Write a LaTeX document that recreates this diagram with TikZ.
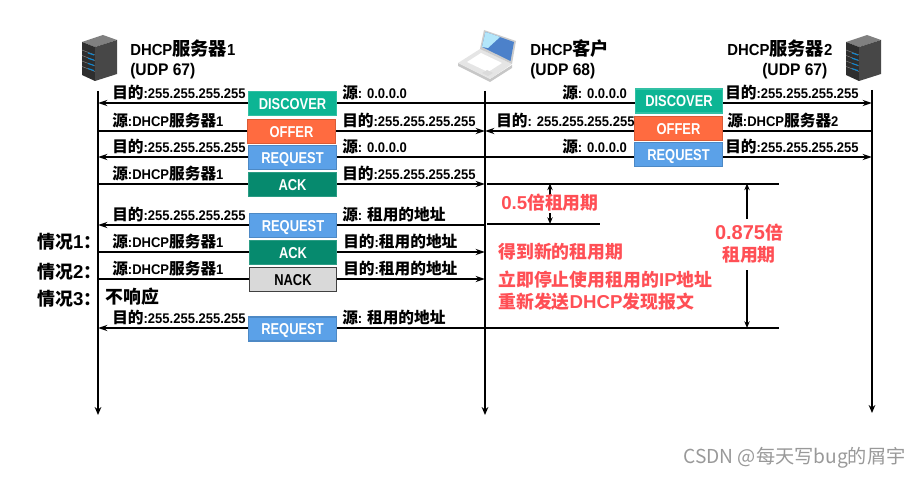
\documentclass[tikz,border=0pt]{standalone}
\usepackage{fontspec}
\usetikzlibrary{arrows.meta}
\setmainfont[FakeStretch=.93]{Liberation Sans}
\newfontfamily\cjkf[Scale=1.12]{Noto Sans CJK SC}
\newfontfamily\cjkr{Noto Sans CJK SC}
\newfontfamily\boxf[FakeStretch=.82]{Liberation Sans}
\newfontfamily\latf{Liberation Sans}
\newfontfamily\wmf{Noto Sans CJK SC}
\newcommand{\C}[1]{{\cjkf #1}}
\newcommand{\R}[1]{{\cjkr\fontsize{13.4}{15}\selectfont #1}}
\newcommand{\HC}[1]{{\cjkr\fontsize{13.7}{15}\selectfont #1}}
\definecolor{cdisc}{HTML}{0DB594}
\definecolor{coffer}{HTML}{FF6B40}
\definecolor{creq}{HTML}{5BA1E8}
\definecolor{cack}{HTML}{068A6E}
\definecolor{cnack}{HTML}{D9D9D9}
\definecolor{cred}{HTML}{FF4F55}
\tikzset{
 life/.style={line width=1.6pt,-{Stealth[length=6pt,width=5pt]}},
 msg/.style={line width=1.4pt,-{Stealth[length=7pt,width=4.5pt]}},
 mark line/.style={line width=1.5pt},
 dim/.style={line width=1.2pt,-{Stealth[length=5pt,width=4pt]}},
 pbox/.style={minimum width=65.5pt,minimum height=18pt,inner sep=0pt,line width=.8pt,text height=8.5pt,text depth=0pt,font=\boxf\bfseries\fontsize{11.8}{13}\selectfont,text=white},
 discbox/.style={pbox,fill=cdisc,draw=cdisc!85!white},
 offerbox/.style={pbox,fill=coffer,draw=coffer!85!black},
 reqbox/.style={pbox,fill=creq,draw=creq!85!black},
 ackbox/.style={pbox,fill=cack,draw=cack!85!white},
 nackbox/.style={pbox,fill=cnack,draw=black!75,text=black},
 lab/.style={anchor=west,inner sep=0pt,yshift=-.6pt,font=\bfseries\fontsize{10.5}{12}\selectfont},
 head/.style={anchor=west,inner sep=0pt,font=\bfseries\fontsize{12}{13}\selectfont},
 headb/.style={anchor=west,inner sep=0pt,font=\bfseries\fontsize{12.6}{13}\selectfont},
 big/.style={anchor=west,inner sep=0pt,font=\latf\bfseries\fontsize{14}{16}\selectfont},
 redt/.style={big,text=cred},
 srvicon/.pic={
  \fill[black!50] (0,7) -- (21,0) -- (35,5) -- (13,12) -- cycle;
  \fill[black!82] (0,7) -- (13,12) -- (13,46) -- (0,40) -- cycle;
  \fill[black!72] (13,12) -- (35,5) -- (35,39) -- (13,46) -- cycle;
  \foreach \i in {0,1,2,3}{
   \draw[black!45,line width=.3pt] (0,{15+\i*5.5}) -- (13,{20+\i*5.5});
   \draw[cyan!70!blue,line width=.8pt] (6,{18+\i*5.2}) -- (12,{20+\i*5.2});
  }
 },
 lapicon/.pic={
  \fill[black!22] (0,36) -- (32,52) -- (54,38) -- (54,35) -- (32,49) -- (0,33) -- cycle;
  \fill[black!10] (0,33) -- (22,19) -- (54,34) -- (32,49) -- cycle;
  \fill[white] (9,32) -- (23,23) -- (44,33) -- (30,42) -- cycle;
  \fill[black!14] (24,43) -- (29,40) -- (35,43) -- (30,46) -- cycle;
  \fill[black!20] (22,19) -- (26,0) -- (58,11) -- (54,34) -- cycle;
  \fill[cyan!45!blue!75] (24,17) -- (27.5,2) -- (56,12) -- (52.5,31) -- cycle;
  \fill[cyan!30!white] (24,17) -- (27.5,2) -- (42,7) -- (30,18) -- cycle;
 },
}
\begin{document}
\begin{tikzpicture}[x=.75pt,y=-.75pt]
\useasboundingbox (0,0) rectangle (921,478);
% lifeline anchors
\coordinate (s1t) at (98,91);  \coordinate (s1b) at (98,415);
\coordinate (clt) at (485,91); \coordinate (clb) at (485,415);
\coordinate (s2t) at (872,90); \coordinate (s2b) at (872,413);
\draw[life] (s1t) -- (s1b);
\draw[life] (clt) -- (clb);
\draw[life] (s2t) -- (s2b);
% rows
\foreach \n/\y in {r1/103,r2/131,r3/157,r4/184,r5/225,r6/252,r7/279,r8/328}
 \coordinate (\n) at (0,\y);
% left messages
\draw[msg] (r1 -| clt) -- (r1 -| s1t);
\draw[msg] (r2 -| s1t) -- (r2 -| clt);
\draw[msg] (r3 -| clt) -- (r3 -| s1t);
\draw[msg] (r4 -| s1t) -- (r4 -| clt);
\draw[msg] (r5 -| clt) -- (r5 -| s1t);
\draw[msg] (r6 -| s1t) -- (r6 -| clt);
\draw[msg] (r7 -| s1t) -- (r7 -| clt);
\draw[msg] (r8 -| clt) -- (r8 -| s1t);
% right messages
\draw[msg] (r1 -| clt) -- (r1 -| s2t);
\draw[msg] (r2 -| s2t) -- (r2 -| clt);
\draw[msg] (r3 -| clt) -- (r3 -| s2t);
% boxes
\node[discbox]  (bd1) at (292.5,103.5) {DISCOVER};
\node[offerbox] (bo1) at (291.5,131.5) {OFFER};
\node[reqbox]   (br1) at (292.5,157.5) {REQUEST};
\node[ackbox]   (ba1) at (292.5,184.5) {ACK};
\node[reqbox]   (br2) at (293,225.5) {REQUEST};
\node[ackbox]   (ba2) at (293,252.5) {ACK};
\node[nackbox]  (bn)  at (293,279.5) {NACK};
\node[reqbox]   (br3) at (292.5,329) {REQUEST};
\node[discbox]  (bd2) at (679,101) {DISCOVER};
\node[offerbox] (bo2) at (678.5,128.5) {OFFER};
\node[reqbox]   (br4) at (678.5,154.5) {REQUEST};
% icons
\pic at (82,35) {srvicon};
\pic at (846,35) {srvicon};
\pic at (458,30) {lapicon};
% headers
\node[head] (h1a) at (130,49) {DHCP\HC{服务器}1};
\node[headb] (h1b) at (130,71) {(UDP 67)};
\node[head] (h2a) at (530,49) {DHCP\HC{客户}};
\node[headb] (h2b) at (530,71) {(UDP 68)};
\node[head] (h3a) at (727,49) {DHCP\HC{服务器}2};
\node[headb] (h3b) at (762,71) {(UDP 67)};
% left labels
\node[lab] (l1a) at (112,92) {\C{目的}:255.255.255.255};
\node[lab] (l1b) at (342,92) {\C{源}: 0.0.0.0};
\node[lab] (l2a) at (112,120) {\C{源}:DHCP\C{服务器}1};
\node[lab] (l2b) at (342,120) {\C{目的}:255.255.255.255};
\node[lab] (l3a) at (112,146) {\C{目的}:255.255.255.255};
\node[lab] (l3b) at (342,146) {\C{源}: 0.0.0.0};
\node[lab] (l4a) at (112,173) {\C{源}:DHCP\C{服务器}1};
\node[lab] (l4b) at (342,173) {\C{目的}:255.255.255.255};
\node[lab] (l5a) at (112,214) {\C{目的}:255.255.255.255};
\node[lab] (l5b) at (342,214) {\C{源}: \C{租用的地址}};
\node[lab] (l6a) at (112,241) {\C{源}:DHCP\C{服务器}1};
\node[lab] (l6b) at (343,241) {\C{目的}:\C{租用的地址}};
\node[lab] (l7a) at (112,268) {\C{源}:DHCP\C{服务器}1};
\node[lab] (l7b) at (343,268) {\C{目的}:\C{租用的地址}};
\node[lab] (l8a) at (112,317) {\C{目的}:255.255.255.255};
\node[lab] (l8b) at (342,317) {\C{源}: \C{租用的地址}};
% right labels
\node[lab] (m1a) at (562,92) {\C{源}: 0.0.0.0};
\node[lab] (m1b) at (725,92) {\C{目的}:255.255.255.255};
\node[lab] (m2a) at (496,120) {\C{目的}: 255.255.255.255};
\node[lab] (m2b) at (727,120) {\C{源}:DHCP\C{服务器}2};
\node[lab] (m3a) at (562,146) {\C{源}: 0.0.0.0};
\node[lab] (m3b) at (725,146) {\C{目的}:255.255.255.255};
% cases
\node[big] (c1) at (37,242) {\R{情况}1\R{：}};
\node[big] (c2) at (37,272) {\R{情况}2\R{：}};
\node[big] (c3) at (37,299) {\R{情况}3\R{：}};
\node[big] (c3t) at (105,297) {\R{不响应}};
% lease marks
\coordinate (t0a) at (487,183.5); \coordinate (t0b) at (779,183.5);
\coordinate (t1a) at (487,224);   \coordinate (t1b) at (600,224);
\coordinate (t2b) at (779,328);
\draw[mark line] (t0a) -- (t0b);
\draw[mark line] (t1a) -- (t1b);
\draw[mark line] (r8 -| clt) -- (t2b);
\coordinate (d1m) at (550,195); \coordinate (d1n) at (550,213);
\coordinate (d2m) at (747,219); \coordinate (d2n) at (747,270);
\draw[dim] (d1m) -- (d1m |- t0a);
\draw[dim] (d1n) -- (d1n |- t1a);
\draw[dim] (d2m) -- (d2m |- t0a);
\draw[dim] (d2n) -- (d2n |- t2b);
% red texts
\node[redt] (x1) at (501,203) {0.5\R{倍租用期}};
\node[redt] (x2) at (498,252) {\R{得到新的租用期}};
\node[redt] (x3) at (498,280) {\R{立即停止使用租用的}IP\R{地址}};
\node[redt] (x4) at (498,302) {\R{重新发送}DHCP\R{发现报文}};
\node[redt,anchor=center,font=\latf\bfseries\fontsize{15}{16}\selectfont] (x5) at (749,233) {0.875\R{倍}};
\node[redt,anchor=center] (x6) at (749,255) {\R{租用期}};
% watermark
\node[anchor=west,inner sep=0pt,text=black!40,font=\wmf\fontsize{14.4}{16}\selectfont] (wm) at (683,458) {CSDN @每天写bug的屑宇};
\end{tikzpicture}
\end{document}
